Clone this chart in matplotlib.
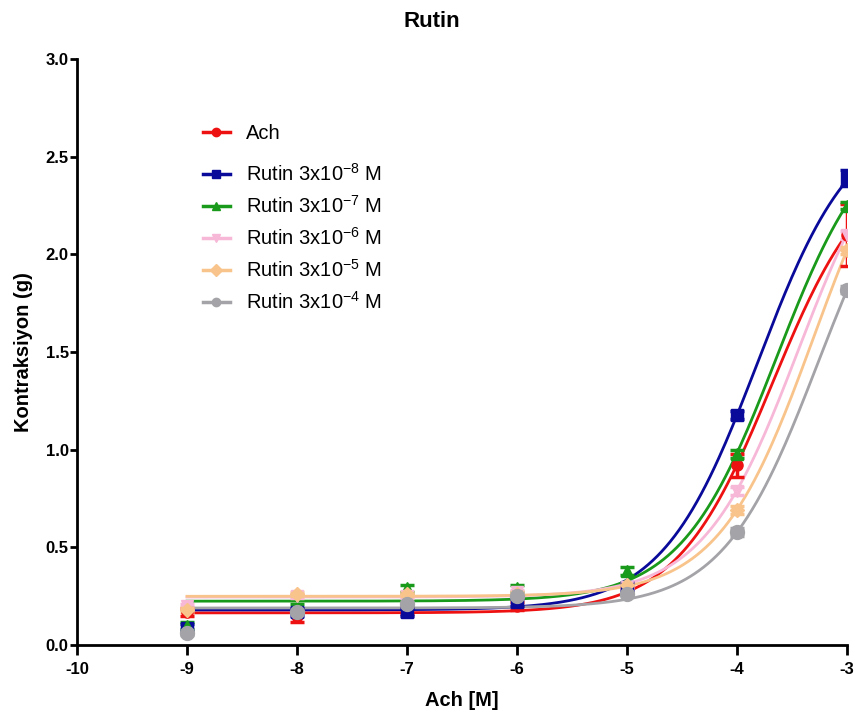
#!/usr/bin/env python3
"""Rutin concentration-response curves (Ach) with sigmoid fits."""

import matplotlib

matplotlib.use("Agg")
import matplotlib.pyplot as plt
import numpy as np

plt.rcParams["font.family"] = ["Liberation Sans", "DejaVu Sans"]
plt.rcParams["mathtext.default"] = "regular"
plt.rcParams["axes.unicode_minus"] = False

# log [Ach] (M)
log_ach = [-9, -8, -7, -6, -5, -4, -3]

series_names = [
    "Ach",
    "Rutin 3x10$^{-8}$ M",
    "Rutin 3x10$^{-7}$ M",
    "Rutin 3x10$^{-6}$ M",
    "Rutin 3x10$^{-5}$ M",
    "Rutin 3x10$^{-4}$ M",
]

# mean contraction (g)
ach_mean = [0.17, 0.15, 0.18, 0.20, 0.28, 0.92, 2.10]
r8_mean = [0.09, 0.17, 0.17, 0.22, 0.30, 1.18, 2.39]
r7_mean = [0.10, 0.19, 0.29, 0.29, 0.38, 0.98, 2.25]
r6_mean = [0.20, 0.25, 0.25, 0.27, 0.30, 0.79, 2.10]
r5_mean = [0.18, 0.26, 0.26, 0.26, 0.31, 0.69, 2.02]
r4_mean = [0.06, 0.17, 0.21, 0.25, 0.26, 0.58, 1.82]

# SEM (g)
ach_sem = [0.02, 0.03, 0.02, 0.02, 0.02, 0.06, 0.16]
r8_sem = [0.02, 0.02, 0.02, 0.02, 0.02, 0.02, 0.04]
r7_sem = [0.02, 0.02, 0.02, 0.02, 0.02, 0.02, 0.02]
r6_sem = [0.01, 0.01, 0.01, 0.01, 0.01, 0.02, 0.02]
r5_sem = [0.01, 0.01, 0.01, 0.01, 0.01, 0.02, 0.02]
r4_sem = [0.01, 0.01, 0.01, 0.01, 0.01, 0.02, 0.02]

# sigmoid fit parameters (bottom, top, logEC50), Hill slope 1
fit_bottom = [0.165, 0.18, 0.225, 0.246, 0.25, 0.19]
fit_top = [2.51, 2.72, 2.72, 2.78, 2.91, 2.71]
fit_logec50 = [-3.68, -3.81, -3.64, -3.44, -3.30, -3.26]

means = [ach_mean, r8_mean, r7_mean, r6_mean, r5_mean, r4_mean]
sems = [ach_sem, r8_sem, r7_sem, r6_sem, r5_sem, r4_sem]

colors = ["#ee1111", "#0a0a9a", "#1a9a1a", "#f7b8d8", "#f8c48c", "#a4a4a8"]
markers = ["o", "s", "^", "v", "D", "o"]
msizes = [8, 8, 9, 9, 7, 10]

fig = plt.figure(figsize=(8.59, 7.2), dpi=100)
ax = fig.add_axes([0.0896, 0.104, 0.8964, 0.814])

xfit = np.linspace(-9, -3, 300)
handles = []
for i in range(len(series_names)):
    b, t, ec = fit_bottom[i], fit_top[i], fit_logec50[i]
    yfit = b + (t - b) / (1 + 10 ** (ec - xfit))
    ax.plot(xfit, yfit, color=colors[i], lw=2, zorder=2 + i * 0.1)
    ax.errorbar(log_ach, means[i], yerr=sems[i], fmt="none", ecolor=colors[i],
                elinewidth=2.5, capsize=5, capthick=2.5, zorder=3)
    ax.plot(log_ach, means[i], ls="none", marker=markers[i], ms=msizes[i],
            color=colors[i], zorder=4)
    h, = ax.plot([], [], color=colors[i], lw=2.5, marker=markers[i], ms=6)
    handles.append(h)

ax.set_xlim(-10, -3)
ax.set_ylim(0, 3.0)
ax.set_xticks(range(-10, -2))
ax.set_yticks([0.0, 0.5, 1.0, 1.5, 2.0, 2.5, 3.0])
ax.set_yticklabels(["0.0", "0.5", "1.0", "1.5", "2.0", "2.5", "3.0"])
for s in ("top", "right"):
    ax.spines[s].set_visible(False)
for s in ("left", "bottom"):
    ax.spines[s].set_linewidth(2)
ax.tick_params(axis="x", width=2, length=7, labelsize=12, pad=5)
ax.tick_params(axis="y", width=2, length=5, labelsize=12, pad=1)
for lbl in ax.get_xticklabels() + ax.get_yticklabels():
    lbl.set_fontweight("bold")

ax.set_xlabel("Ach [M]", fontsize=14.5, fontweight="bold", labelpad=10)
ax.set_ylabel("Kontraksiyon (g)", fontsize=14.5, fontweight="bold", labelpad=9)
fig.suptitle("Rutin", x=0.503, y=0.985, va="top", fontsize=16, fontweight="bold")

leg_kw = dict(loc="upper left", frameon=False, fontsize=14.5, handlelength=1.35,
              handletextpad=0.8, borderpad=0)
leg1 = ax.legend(handles[:1], series_names[:1], bbox_to_anchor=(0.150, 0.907), **leg_kw)
ax.add_artist(leg1)
ax.legend(handles[1:], series_names[1:], bbox_to_anchor=(0.150, 0.840),
          labelspacing=0.5, **leg_kw)

fig.savefig("out.png", dpi=100)
